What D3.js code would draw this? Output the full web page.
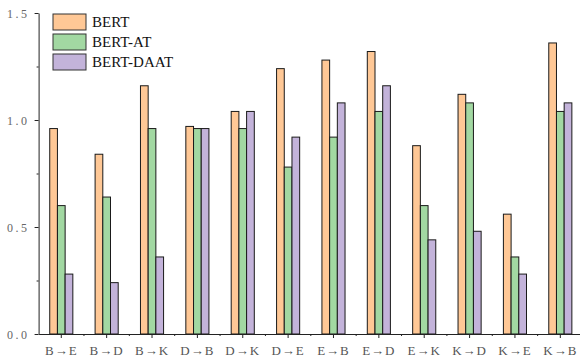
<!DOCTYPE html>
<html>
<head>
<meta charset="utf-8">
<script src="https://cdn.jsdelivr.net/npm/d3@7"></script>
<style>
  html, body { margin: 0; padding: 0; background: #fff; }
  svg { display: block; }
</style>
</head>
<body>
<svg id="chart" width="580" height="358"></svg>
<script>
// Transfer pairs (source → target domain)
const categories = ["B→E", "B→D", "B→K", "D→B", "D→K", "D→E", "E→B", "E→D", "E→K", "K→D", "K→E", "K→B"];
const seriesNames = ["BERT", "BERT-AT", "BERT-DAAT"];
const bertValues = [0.96, 0.84, 1.16, 0.97, 1.04, 1.24, 1.28, 1.32, 0.88, 1.12, 0.56, 1.36];
const bertAtValues = [0.60, 0.64, 0.96, 0.96, 0.96, 0.78, 0.92, 1.04, 0.60, 1.08, 0.36, 1.04];
const bertDaatValues = [0.28, 0.24, 0.36, 0.96, 1.04, 0.92, 1.08, 1.16, 0.44, 0.48, 0.28, 1.08];
const yTicks = [0, 0.5, 1.0, 1.5];
const colors = ["#FFC896", "#A2D8A2", "#C3B3DA"];

const seriesValues = [bertValues, bertAtValues, bertDaatValues];
const serif = "'Liberation Serif', 'DejaVu Serif', serif";

const svg = d3.select("#chart");

const x = d3.scaleBand().domain(categories).range([38.6, 583]).padding(0);
const y = d3.scaleLinear().domain([0, 1.5]).range([334, 13]);
const barW = 7.7;
const inner = d3.scaleBand().domain(d3.range(seriesNames.length))
  .range([-barW * 1.5, barW * 1.5]).padding(0);

// Bars
const groups = svg.append("g").selectAll("g")
  .data(categories)
  .join("g")
  .attr("transform", d => `translate(${x(d) + x.bandwidth() / 2},0)`);

groups.selectAll("rect")
  .data((c, i) => seriesValues.map((vals, s) => ({ s, v: vals[i] })))
  .join("rect")
  .attr("x", d => inner(d.s))
  .attr("width", inner.bandwidth())
  .attr("y", d => y(d.v))
  .attr("height", d => y(0) - y(d.v))
  .attr("fill", d => colors[d.s])
  .attr("stroke", "#1a1a1a")
  .attr("stroke-width", 1);

// Y axis: major + minor ticks
const yAxis = d3.axisLeft(y).tickValues(yTicks).tickFormat(d3.format(".1f")).tickSize(4).tickSizeOuter(0);
const yG = svg.append("g").attr("transform", "translate(38.6,0)").call(yAxis)
  .attr("font-family", serif).attr("font-size", 12);
yG.selectAll(".tick text").attr("fill", "#666").attr("x", -9).attr("dy", "0.35em").style("letter-spacing", "2.5px");
yG.select(".domain").attr("stroke", "#222");
yG.selectAll(".tick line").attr("stroke", "#222");
svg.append("g").attr("transform", "translate(38.6,0)")
  .call(d3.axisLeft(y).tickValues([0.25, 0.75, 1.25]).tickSize(2).tickFormat(""))
  .call(g => g.select(".domain").remove())
  .selectAll("line").attr("stroke", "#222");

// X axis: category ticks + minor ticks at band edges
const xAxis = d3.axisBottom(x).tickSize(4).tickSizeOuter(0);
const xG = svg.append("g").attr("transform", "translate(0,334)").call(xAxis)
  .attr("font-family", serif).attr("font-size", 13);
xG.selectAll(".tick text").attr("fill", "#555").attr("y", 21).attr("dy", 0).style("letter-spacing", "1px");
xG.select(".domain").attr("stroke", "#222");
xG.selectAll(".tick line").attr("stroke", "#222");
xG.selectAll(".minor").data(categories.slice(1))
  .join("line")
  .attr("x1", d => x(d)).attr("x2", d => x(d))
  .attr("y1", 0).attr("y2", 2)
  .attr("stroke", "#222");

// Legend
const legend = svg.append("g").attr("transform", "translate(53,14)");
const items = legend.selectAll("g").data(seriesNames).join("g")
  .attr("transform", (d, i) => `translate(0,${i * 20})`);
items.append("rect")
  .attr("width", 33).attr("height", 16)
  .attr("fill", (d, i) => colors[i])
  .attr("stroke", "#333").attr("stroke-width", 1);
items.append("text")
  .attr("x", 39).attr("y", 13)
  .attr("font-family", serif)
  .attr("font-size", 15)
  .attr("fill", "#111")
  .text(d => d);
</script>
</body>
</html>
